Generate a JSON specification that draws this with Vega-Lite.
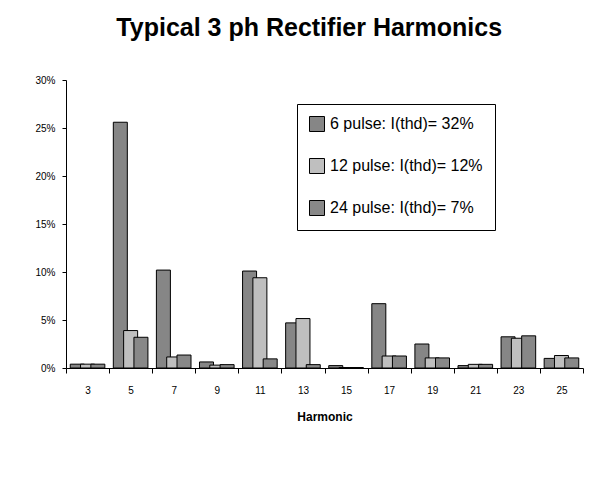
{
  "$schema": "https://vega.github.io/schema/vega-lite/v6.json",
  "autosize": {"type": "none"},
  "width": 517,
  "height": 288,
  "padding": {"left": 66, "top": 80, "right": 28, "bottom": 109},
  "background": "white",
  "title": {
    "text": "Typical 3 ph Rectifier Harmonics",
    "fontSize": 25,
    "fontWeight": "bold",
    "font": "Liberation Sans",
    "color": "black",
    "anchor": "middle",
    "frame": "bounds",
    "baseline": "alphabetic",
    "offset": 14
  },
  "data": {
    "values": [
      {"harmonic": 3, "series": "6 pulse: I(thd)= 32%", "value": 0.004},
      {"harmonic": 3, "series": "12 pulse: I(thd)= 12%", "value": 0.004},
      {"harmonic": 3, "series": "24 pulse: I(thd)= 7%", "value": 0.004},
      {"harmonic": 5, "series": "6 pulse: I(thd)= 32%", "value": 0.256},
      {"harmonic": 5, "series": "12 pulse: I(thd)= 12%", "value": 0.039},
      {"harmonic": 5, "series": "24 pulse: I(thd)= 7%", "value": 0.032},
      {"harmonic": 7, "series": "6 pulse: I(thd)= 32%", "value": 0.102},
      {"harmonic": 7, "series": "12 pulse: I(thd)= 12%", "value": 0.0115},
      {"harmonic": 7, "series": "24 pulse: I(thd)= 7%", "value": 0.0135},
      {"harmonic": 9, "series": "6 pulse: I(thd)= 32%", "value": 0.0063},
      {"harmonic": 9, "series": "12 pulse: I(thd)= 12%", "value": 0.003},
      {"harmonic": 9, "series": "24 pulse: I(thd)= 7%", "value": 0.0035},
      {"harmonic": 11, "series": "6 pulse: I(thd)= 32%", "value": 0.101},
      {"harmonic": 11, "series": "12 pulse: I(thd)= 12%", "value": 0.094},
      {"harmonic": 11, "series": "24 pulse: I(thd)= 7%", "value": 0.0095},
      {"harmonic": 13, "series": "6 pulse: I(thd)= 32%", "value": 0.047},
      {"harmonic": 13, "series": "12 pulse: I(thd)= 12%", "value": 0.0515},
      {"harmonic": 13, "series": "24 pulse: I(thd)= 7%", "value": 0.0035},
      {"harmonic": 15, "series": "6 pulse: I(thd)= 32%", "value": 0.0025},
      {"harmonic": 15, "series": "12 pulse: I(thd)= 12%", "value": 0.0005},
      {"harmonic": 15, "series": "24 pulse: I(thd)= 7%", "value": 0.0005},
      {"harmonic": 17, "series": "6 pulse: I(thd)= 32%", "value": 0.067},
      {"harmonic": 17, "series": "12 pulse: I(thd)= 12%", "value": 0.0125},
      {"harmonic": 17, "series": "24 pulse: I(thd)= 7%", "value": 0.0125},
      {"harmonic": 19, "series": "6 pulse: I(thd)= 32%", "value": 0.025},
      {"harmonic": 19, "series": "12 pulse: I(thd)= 12%", "value": 0.0105},
      {"harmonic": 19, "series": "24 pulse: I(thd)= 7%", "value": 0.0105},
      {"harmonic": 21, "series": "6 pulse: I(thd)= 32%", "value": 0.0025},
      {"harmonic": 21, "series": "12 pulse: I(thd)= 12%", "value": 0.0038},
      {"harmonic": 21, "series": "24 pulse: I(thd)= 7%", "value": 0.0038},
      {"harmonic": 23, "series": "6 pulse: I(thd)= 32%", "value": 0.0325},
      {"harmonic": 23, "series": "12 pulse: I(thd)= 12%", "value": 0.031},
      {"harmonic": 23, "series": "24 pulse: I(thd)= 7%", "value": 0.0335},
      {"harmonic": 25, "series": "6 pulse: I(thd)= 32%", "value": 0.01},
      {"harmonic": 25, "series": "12 pulse: I(thd)= 12%", "value": 0.013},
      {"harmonic": 25, "series": "24 pulse: I(thd)= 7%", "value": 0.0105}
    ]
  },
  "mark": {"type": "bar", "stroke": "black", "strokeWidth": 1, "width": 14},
  "encoding": {
    "x": {
      "field": "harmonic",
      "type": "ordinal",
      "sort": "ascending",
      "scale": {"paddingInner": 0, "paddingOuter": 0},
      "axis": {
        "title": "Harmonic",
        "titleFontSize": 12,
        "titleFontWeight": "bold",
        "titleColor": "black",
        "titlePadding": 16,
        "labelAngle": 0,
        "labelFontSize": 10,
        "labelColor": "black",
        "labelPadding": 12,
        "tickBand": "extent",
        "tickSize": 5,
        "tickColor": "black",
        "domainColor": "black",
        "grid": false
      }
    },
    "xOffset": {
      "field": "series",
      "type": "nominal",
      "sort": ["6 pulse: I(thd)= 32%", "12 pulse: I(thd)= 12%", "24 pulse: I(thd)= 7%"],
      "scale": {"paddingInner": 0, "paddingOuter": 0.59}
    },
    "y": {
      "field": "value",
      "type": "quantitative",
      "scale": {"domain": [0, 0.3], "nice": false},
      "axis": {
        "title": null,
        "values": [0, 0.05, 0.1, 0.15, 0.2, 0.25, 0.3],
        "format": ".0%",
        "labelFontSize": 10,
        "labelColor": "black",
        "labelPadding": 7,
        "tickSize": 4,
        "tickColor": "black",
        "domainColor": "black",
        "grid": false
      }
    },
    "color": {
      "field": "series",
      "type": "nominal",
      "scale": {
        "domain": ["6 pulse: I(thd)= 32%", "12 pulse: I(thd)= 12%", "24 pulse: I(thd)= 7%"],
        "range": ["#868686", "#bfbfbf", "#888888"]
      },
      "legend": {
        "title": null,
        "orient": "none",
        "legendX": 231,
        "legendY": 24,
        "padding": 12,
        "strokeColor": "black",
        "fillColor": "white",
        "symbolType": "square",
        "symbolSize": 225,
        "symbolStrokeColor": "black",
        "symbolStrokeWidth": 1,
        "symbolOpacity": 1,
        "labelFontSize": 16,
        "labelColor": "black",
        "labelOffset": 5,
        "labelLimit": 300,
        "rowPadding": 22
      }
    }
  },
  "config": {
    "font": "Liberation Sans",
    "view": {"stroke": null}
  }
}
